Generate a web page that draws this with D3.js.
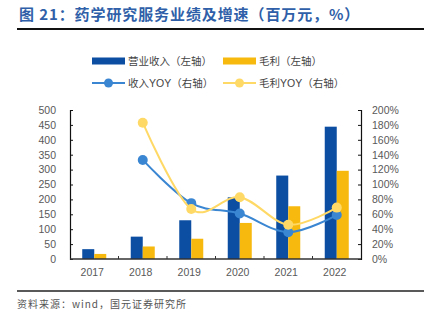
<!DOCTYPE html>
<html>
<head>
<meta charset="utf-8">
<script src="https://cdn.jsdelivr.net/npm/d3@7/dist/d3.min.js"></script>
<style>
  html, body { margin: 0; padding: 0; background: #fff; }
  svg { display: block; }
  text { font-family: "Liberation Sans", Arial, "Noto Sans CJK SC", sans-serif; }
  .cjk { font-family: "Noto Sans CJK SC", sans-serif; }
</style>
</head>
<body>
<svg id="chart" width="424" height="321"></svg>
<script>
// Pharmaceutical research services: revenue, gross profit and growth
const years = ["2017", "2018", "2019", "2020", "2021", "2022"];
const revenue = [33, 75, 130, 207, 280, 444];          // 百万元
const grossProfit = [17, 42, 68, 121, 177, 296];       // 百万元
const revenueYoY = [null, 133, 75, 61, 36, 59];        // %
const profitYoY = [null, 183, 67, 83, 46, 69];         // %
const leftTicks = [0, 50, 100, 150, 200, 250, 300, 350, 400, 450, 500];
const rightTicks = [0, 20, 40, 60, 80, 100, 120, 140, 160, 180, 200];

const colors = {
  revenue: "#0b4ea2",
  profit: "#f8b90f",
  revenueYoY: "#3a86d2",
  profitYoY: "#ffd966",
  title: "#2f5fa8",
  tick: "#595959"
};

const svg = d3.select("#chart");
const plot = { left: 70, right: 361, top: 110, bottom: 259 };

// Header
svg.append("text")
  .attr("class", "cjk")
  .attr("x", 19).attr("y", 20)
  .attr("fill", colors.title)
  .attr("font-size", 15).attr("font-weight", "bold")
  .attr("letter-spacing", 0.9)
  .text("图 21：药学研究服务业绩及增速（百万元，%）");
svg.append("line")
  .attr("x1", 17).attr("x2", 424).attr("y1", 29).attr("y2", 29)
  .attr("stroke", "#111").attr("stroke-width", 2);

// Scales
const x = d3.scaleBand().domain(years).range([plot.left, plot.right]);
const yL = d3.scaleLinear().domain([0, 500]).range([plot.bottom, plot.top]);
const yR = d3.scaleLinear().domain([0, 200]).range([plot.bottom, plot.top]);
const barW = 12;

// Axes
const leftAxis = svg.append("g")
  .attr("transform", `translate(${plot.left},0)`)
  .call(d3.axisLeft(yL).tickValues(leftTicks).tickSize(-3).tickPadding(14));
const rightAxis = svg.append("g")
  .attr("transform", `translate(${plot.right},0)`)
  .call(d3.axisRight(yR).tickValues(rightTicks).tickSize(-3).tickPadding(11)
    .tickFormat(d => d + "%"));
[leftAxis, rightAxis].forEach(g => {
  g.select(".domain").attr("stroke", "#111").attr("stroke-width", 1.2);
  g.selectAll(".tick line").attr("stroke", "#111");
  g.selectAll(".tick text").attr("fill", colors.tick).attr("font-size", 10.5)
    .attr("font-family", "'Liberation Sans', Arial, sans-serif");
});

// Bars
const bars = svg.append("g");
bars.selectAll(".rev").data(years).join("rect")
  .attr("x", d => x(d) + x.bandwidth() / 2 - barW)
  .attr("width", barW)
  .attr("y", (d, i) => yL(revenue[i]))
  .attr("height", (d, i) => yL(0) - yL(revenue[i]))
  .attr("fill", colors.revenue);
bars.selectAll(".gp").data(years).join("rect")
  .attr("x", d => x(d) + x.bandwidth() / 2)
  .attr("width", barW)
  .attr("y", (d, i) => yL(grossProfit[i]))
  .attr("height", (d, i) => yL(0) - yL(grossProfit[i]))
  .attr("fill", colors.profit);

// Bottom axis with ticks between categories
const bottom = svg.append("g");
bottom.append("line")
  .attr("x1", plot.left).attr("x2", plot.right)
  .attr("y1", plot.bottom).attr("y2", plot.bottom)
  .attr("stroke", "#333").attr("stroke-width", 1.5);
bottom.selectAll(".bt").data(years.slice(1)).join("line")
  .attr("x1", d => x(d)).attr("x2", d => x(d))
  .attr("y1", plot.bottom).attr("y2", plot.bottom - 3)
  .attr("stroke", "#333");
bottom.selectAll(".bl").data(years).join("text")
  .attr("x", d => x(d) + x.bandwidth() / 2 - 2)
  .attr("y", 276)
  .attr("text-anchor", "middle")
  .attr("fill", colors.tick).attr("font-size", 10.5)
  .text(d => d);

// Growth lines
function drawSeries(values, color) {
  const pts = years.map((d, i) => ({ x: x(d) + x.bandwidth() / 2, v: values[i] }))
    .filter(p => p.v !== null);
  const line = d3.line().x(p => p.x).y(p => yR(p.v)).curve(d3.curveCatmullRom.alpha(0));
  svg.append("path").datum(pts)
    .attr("d", line).attr("fill", "none")
    .attr("stroke", color).attr("stroke-width", 2);
  svg.append("g").selectAll("circle").data(pts).join("circle")
    .attr("cx", p => p.x).attr("cy", p => yR(p.v)).attr("r", 5)
    .attr("fill", color);
}
drawSeries(revenueYoY, colors.revenueYoY);
drawSeries(profitYoY, colors.profitYoY);

// Legend
const legend = svg.append("g").attr("class", "cjk");
const items = [
  { label: "营业收入（左轴）", color: colors.revenue, type: "bar", x: 92, y: 61 },
  { label: "毛利（左轴）", color: colors.profit, type: "bar", x: 223, y: 61 },
  { label: "收入YOY（右轴）", color: colors.revenueYoY, type: "line", x: 92, y: 83 },
  { label: "毛利YOY（右轴）", color: colors.profitYoY, type: "line", x: 223, y: 83 }
];
items.forEach(it => {
  if (it.type === "bar") {
    legend.append("rect").attr("x", it.x).attr("y", it.y - 3.5)
      .attr("width", 33).attr("height", 7).attr("fill", it.color);
  } else {
    legend.append("line").attr("x1", it.x).attr("x2", it.x + 33)
      .attr("y1", it.y).attr("y2", it.y)
      .attr("stroke", it.color).attr("stroke-width", 2);
    legend.append("circle").attr("cx", it.x + 16.5).attr("cy", it.y).attr("r", 4.5)
      .attr("fill", it.color);
  }
  legend.append("text").attr("x", it.x + 36).attr("y", it.y + 3.8)
    .attr("fill", "#444").attr("font-size", 10.5)
    .text(it.label);
});

// Source note
svg.append("line")
  .attr("x1", 17).attr("x2", 424).attr("y1", 291).attr("y2", 291)
  .attr("stroke", "#222").attr("stroke-width", 1.5);
svg.append("text")
  .attr("class", "cjk")
  .attr("x", 17).attr("y", 308)
  .attr("fill", "#555").attr("font-size", 10)
  .attr("letter-spacing", 1)
  .text("资料来源：wind，国元证券研究所");
</script>
</body>
</html>
